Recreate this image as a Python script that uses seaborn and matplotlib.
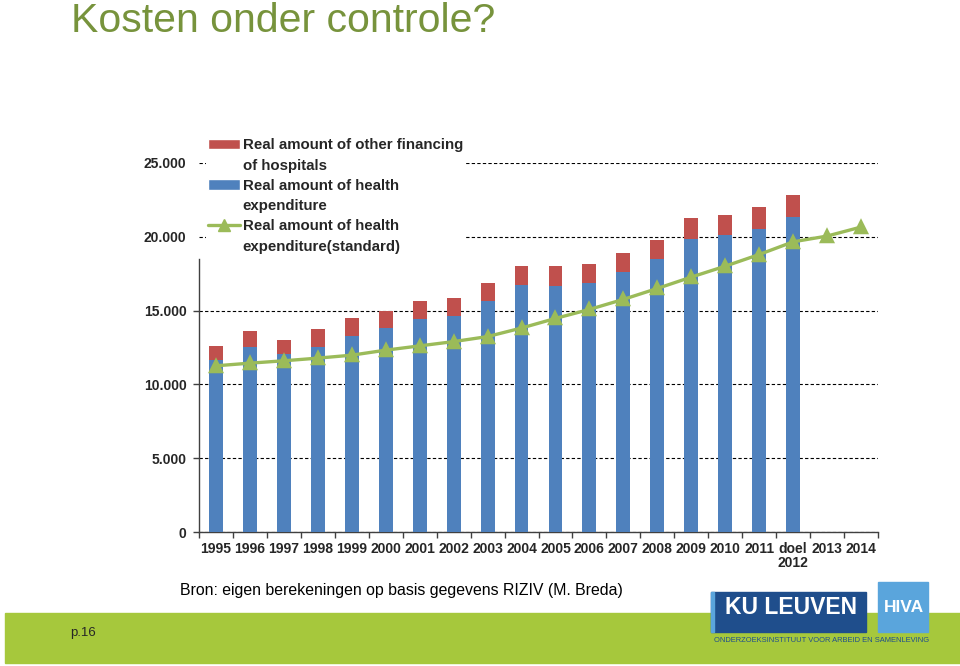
import numpy as np
import pandas as pd
import seaborn as sns
import matplotlib.pyplot as plt
from matplotlib.patches import Patch, Rectangle
from matplotlib.lines import Line2D
from matplotlib.ticker import FuncFormatter, FixedLocator

# data
years = ['1995', '1996', '1997', '1998', '1999', '2000', '2001', '2002', '2003',
         '2004', '2005', '2006', '2007', '2008', '2009', '2010', '2011',
         'doel\n2012', '2013', '2014']
health = [11640, 12560, 12030, 12550, 13270, 13810, 14460, 14640, 15650,
          16710, 16700, 16840, 17630, 18510, 19820, 20090, 20560, 21330,
          np.nan, np.nan]
other = [930, 1040, 1010, 1190, 1210, 1190, 1190, 1220, 1240,
         1320, 1310, 1310, 1290, 1290, 1470, 1420, 1490, 1490,
         np.nan, np.nan]
standard = [11260, 11440, 11600, 11780, 11980, 12320, 12610, 12900, 13240,
            13820, 14470, 15080, 15760, 16500, 17270, 18010, 18800, 19660,
            20050, 20660]

lab_other = ['Real amount of other financing', 'of hospitals']
lab_health = ['Real amount of health', 'expenditure']
lab_std = ['Real amount of health', 'expenditure(standard)']

BLUE = '#4F81BD'
RED = '#C0504D'
GREEN = '#9BBB59'

df = pd.DataFrame({'year': years, 'health': health, 'other': other, 'standard': standard})
df['total'] = df['health'] + df['other']

sns.set_style('white')
plt.rcParams['font.family'] = ['Liberation Sans', 'DejaVu Sans']

fig = plt.figure(figsize=(9.6, 6.66), dpi=100)
ax = fig.add_axes([199 / 960, 1 - 532 / 666, (878 - 199) / 960, (532 - 163) / 666])

bars = df.dropna(subset=['health'])
sns.barplot(data=bars, x='year', y='total', order=years, color=RED, width=0.41,
            saturation=1, linewidth=0, ax=ax, zorder=2)
sns.barplot(data=bars, x='year', y='health', order=years, color=BLUE, width=0.41,
            saturation=1, linewidth=0, ax=ax, zorder=3)
sns.pointplot(data=df, x='year', y='standard', order=years, color=GREEN,
              markers='^', linestyles='-', markersize=8.5, linewidth=2.4, ax=ax)
for c in ax.collections + ax.lines:
    c.set_zorder(4)

ax.set_ylim(0, 25000)
ax.set_xlim(-0.5, len(years) - 0.5)
ax.set_yticks(range(0, 25001, 5000))
ax.yaxis.set_major_formatter(FuncFormatter(lambda v, p: '0' if v == 0 else f'{int(v):,}'.replace(',', '.')))
ax.yaxis.grid(True, color='black', linestyle=(0, (3, 2)), linewidth=0.8)
ax.set_axisbelow(True)
ax.set_xlabel('')
ax.set_ylabel('')

ax.xaxis.set_minor_locator(FixedLocator(np.arange(-0.5, len(years), 1)))
ax.tick_params(axis='x', which='major', length=0, pad=7)
ax.tick_params(axis='x', which='minor', length=4, width=1, color='#404040', direction='out', bottom=True)
ax.tick_params(axis='y', length=4, width=1, color='#404040', direction='out', left=True, pad=5)
for t in ax.get_xticklabels() + ax.get_yticklabels():
    t.set_fontweight('bold')
    t.set_fontsize(10)
    t.set_linespacing(1.0)
# the legend hides the upper part of the value axis
for tk in ax.yaxis.get_major_ticks()[4:]:
    tk.tick1line.set_visible(False)

for s in ['top', 'right']:
    ax.spines[s].set_visible(False)
for s in ['left', 'bottom']:
    ax.spines[s].set_color('#404040')
    ax.spines[s].set_linewidth(1)
ax.spines['left'].set_bounds(0, 18500)

# one legend row per text line, so the lines are evenly spaced like the slide
blank = Patch(facecolor='none', edgecolor='none')
handles = [Patch(facecolor=RED), blank, Patch(facecolor=BLUE), blank,
           Line2D([], [], color=GREEN, lw=2.4, marker='^', markersize=8.5), blank]
labels = lab_other + lab_health + lab_std
leg = fig.legend(handles, labels, loc='upper left',
                 bbox_to_anchor=(206 / 960, 1 - 136 / 666), borderpad=0.15,
                 borderaxespad=0, handlelength=2.1, handletextpad=0.2,
                 labelspacing=0.42, frameon=True, fancybox=False,
                 prop={'weight': 'bold', 'size': 10.8})
leg.get_frame().set_facecolor('white')
leg.get_frame().set_edgecolor('none')
leg.get_frame().set_alpha(1)
leg.set_zorder(10)

# title and footer
fig.text(71 / 960, 1 - 32 / 666, 'Kosten onder controle?', color='#77933C',
         fontsize=29.5, va='baseline', ha='left')
fig.text(180 / 960, 1 - 591 / 666, 'Bron: eigen berekeningen op basis gegevens RIZIV (M. Breda)',
         fontsize=11.4, va='center', ha='left', color='black')
fig.patches.append(Rectangle((5 / 960, 1 - 663 / 666), 955 / 960, 50 / 666,
                             transform=fig.transFigure, color='#A6C83C', zorder=0))
fig.text(70 / 960, 1 - 633 / 666, 'p.16', fontsize=9.5, va='center', ha='left')

# logo
fig.patches.append(Rectangle((711 / 960, 1 - 632 / 666), 155 / 960, 40 / 666,
                             transform=fig.transFigure, color='#1F4E8C', zorder=1))
fig.patches.append(Rectangle((711 / 960, 1 - 632 / 666), 3 / 960, 40 / 666,
                             transform=fig.transFigure, color='#5AA5DC', zorder=2))
fig.patches.append(Rectangle((878 / 960, 1 - 632 / 666), 50 / 960, 50 / 666,
                             transform=fig.transFigure, color='#5AA5DC', zorder=1))
fig.text(791 / 960, 1 - 607 / 666, 'KU LEUVEN', color='white', fontsize=16.5,
         fontweight='bold', ha='center', va='center', zorder=3)
fig.text(904 / 960, 1 - 607 / 666, 'HIVA', color='white', fontsize=12.5,
         fontweight='bold', ha='center', va='center', zorder=3)
fig.text(822 / 960, 1 - 640 / 666, 'ONDERZOEKSINSTITUUT VOOR ARBEID EN SAMENLEVING',
         color='#1F4E8C', fontsize=5.4, ha='center', va='center')

fig.savefig('out.png', dpi=100)
